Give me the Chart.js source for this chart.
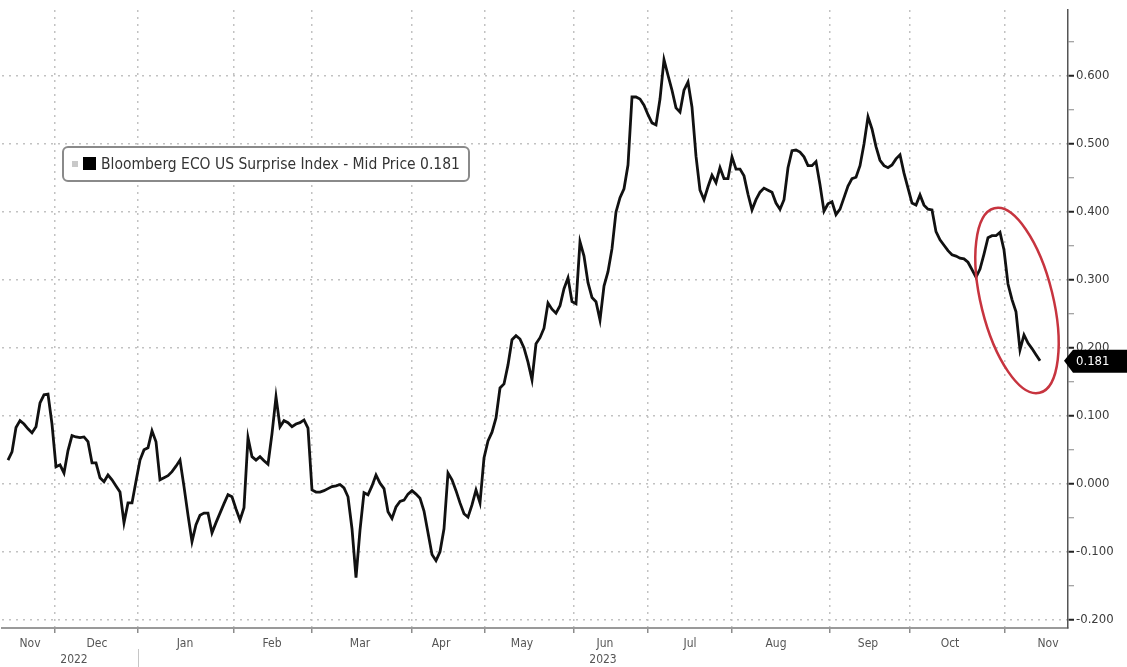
<!DOCTYPE html>
<html>
<head>
<meta charset="utf-8">
<title>ECO US Surprise Index</title>
<script src="https://cdn.jsdelivr.net/npm/chart.js@4.4.0/dist/chart.umd.min.js"></script>
<style>
  html, body { margin: 0; padding: 0; background: #fff; }
  #canvas_div { width: 1127px; height: 667px; }
</style>
</head>
<body>
<div id="canvas_div"><canvas id="myChart" width="1127" height="667"></canvas></div>
<script>
const seriesName = "Bloomberg ECO US Surprise Index - Mid Price";

// one reading per business day, mid Nov 2022 -> mid Nov 2023
const surprise = [
  0.035, 0.047, 0.083, 0.093, 0.088, 0.081, 0.075, 0.084, 0.119, 0.131,
  0.132, 0.088, 0.025, 0.028, 0.016, 0.049, 0.071, 0.069, 0.068, 0.069,
  0.062, 0.031, 0.031, 0.009, 0.003, 0.013, 0.006, -0.003, -0.012, -0.057,
  -0.028, -0.028, 0.004, 0.035, 0.050, 0.053, 0.078, 0.062, 0.006, 0.009,
  0.012, 0.018, 0.026, 0.035, -0.004, -0.046, -0.085, -0.060, -0.046, -0.043,
  -0.043, -0.072, -0.057, -0.043, -0.029, -0.016, -0.019, -0.037, -0.053, -0.035,
  0.068, 0.040, 0.035, 0.040, 0.034, 0.029, 0.074, 0.128, 0.084, 0.093,
  0.090, 0.084, 0.088, 0.090, 0.094, 0.082, -0.009, -0.012, -0.012, -0.010,
  -0.007, -0.004, -0.003, -0.001, -0.006, -0.019, -0.066, -0.138, -0.068, -0.013,
  -0.016, -0.003, 0.013, 0.001, -0.007, -0.041, -0.051, -0.034, -0.026, -0.024,
  -0.015, -0.010, -0.015, -0.021, -0.040, -0.072, -0.104, -0.113, -0.100, -0.066,
  0.016, 0.006, -0.010, -0.028, -0.044, -0.049, -0.031, -0.009, -0.028, 0.038,
  0.063, 0.076, 0.097, 0.141, 0.147, 0.175, 0.212, 0.218, 0.213, 0.200,
  0.179, 0.153, 0.206, 0.215, 0.229, 0.266, 0.257, 0.251, 0.262, 0.287,
  0.303, 0.268, 0.265, 0.356, 0.335, 0.296, 0.274, 0.268, 0.241, 0.291,
  0.312, 0.346, 0.400, 0.421, 0.434, 0.469, 0.569, 0.569, 0.566, 0.557,
  0.543, 0.531, 0.528, 0.566, 0.624, 0.601, 0.579, 0.553, 0.547, 0.579,
  0.591, 0.554, 0.482, 0.432, 0.418, 0.437, 0.454, 0.443, 0.465, 0.449,
  0.449, 0.481, 0.463, 0.463, 0.453, 0.426, 0.403, 0.418, 0.429, 0.435,
  0.432, 0.429, 0.413, 0.404, 0.418, 0.465, 0.490, 0.491, 0.488, 0.481,
  0.468, 0.468, 0.474, 0.440, 0.401, 0.412, 0.415, 0.396, 0.404, 0.421,
  0.438, 0.449, 0.451, 0.468, 0.500, 0.540, 0.522, 0.496, 0.476, 0.468,
  0.465, 0.469, 0.478, 0.484, 0.457, 0.435, 0.413, 0.410, 0.425, 0.410,
  0.404, 0.403, 0.371, 0.359, 0.351, 0.343, 0.337, 0.335, 0.332, 0.331,
  0.326, 0.315, 0.304, 0.316, 0.338, 0.362, 0.365, 0.365, 0.370, 0.344,
  0.294, 0.271, 0.253, 0.197, 0.219, 0.207, 0.199, 0.190, 0.181
];

// month boundaries and month label spots, in reading index
const monthEdges = [11.75, 32.5, 56.5, 76, 101, 119.25, 141.5, 160, 181, 205.5, 225.5, 249.25];
const monthNames = ["Nov", "Dec", "Jan", "Feb", "Mar", "Apr", "May", "Jun", "Jul", "Aug", "Sep", "Oct", "Nov"];
const monthLabelAt = [5.5, 22.25, 44.25, 66, 88, 108.25, 128.5, 149.25, 170.5, 192, 215, 235.5, 260];
const years = ["2022", "2023"];

const yMajor = [-0.2, -0.1, 0, 0.1, 0.2, 0.3, 0.4, 0.5, 0.6];

const X_MIN = -1.5, X_MAX = 265;
const Y_MIN = -0.212, Y_MAX = 0.697;
const FONT = "'DejaVu Sans Condensed', 'DejaVu Sans', sans-serif";

const yTicks = [];
yMajor.forEach((v) => { yTicks.push(v); yTicks.push(Math.round((v + 0.05) * 100) / 100); });
const isMajor = (v) => yMajor.some((m) => Math.abs(m - v) < 1e-6);
const isEdge = (v) => monthEdges.includes(v);

const overlay = {
  id: "overlay",
  afterDatasetsDraw(chart) {
    const { ctx, scales: { x, y } } = chart;
    // red ring round the latest slide
    const n = 13;
    const start = surprise.length - n;
    const xs = surprise.slice(start).map((v, k) => x.getPixelForValue(start + k));
    const ys = surprise.slice(start).map((v) => y.getPixelForValue(v));
    const cx = (Math.min(...xs) + Math.max(...xs)) / 2 + 1;
    const cy = (Math.min(...ys) + Math.max(...ys)) / 2 + 4;
    ctx.save();
    ctx.beginPath();
    ctx.ellipse(cx, cy, 95, 36, 1.33, 0, Math.PI * 2);
    ctx.strokeStyle = "#c7343f";
    ctx.lineWidth = 2.5;
    ctx.stroke();
    ctx.restore();
  },
  afterDraw(chart) {
    const { ctx, chartArea, scales: { x, y } } = chart;
    const last = surprise[surprise.length - 1];

    // legend box
    ctx.save();
    ctx.fillStyle = "#fff";
    ctx.strokeStyle = "#8a8a8a";
    ctx.lineWidth = 2;
    ctx.beginPath();
    ctx.roundRect(63, 147, 406, 34, 5);
    ctx.fill();
    ctx.stroke();
    ctx.fillStyle = "#c9c9c9";
    ctx.fillRect(72, 161, 6, 6);
    ctx.fillStyle = "#000";
    ctx.fillRect(83, 157, 13, 13);
    const text = seriesName + " " + last.toFixed(3);
    ctx.font = "13px " + FONT;
    const w = ctx.measureText(text).width;
    const size = 13 * 359 / w;
    ctx.font = size.toFixed(2) + "px " + FONT;
    ctx.fillStyle = "#333";
    ctx.textBaseline = "middle";
    ctx.fillText(text, 101, 165);

    // last value tag on the axis
    const ty = y.getPixelForValue(last);
    const tx = chartArea.right;
    ctx.fillStyle = "#000";
    ctx.beginPath();
    ctx.moveTo(tx - 4, ty);
    ctx.lineTo(tx + 5, ty - 11);
    ctx.lineTo(chart.width, ty - 11);
    ctx.lineTo(chart.width, ty + 12);
    ctx.lineTo(tx + 5, ty + 12);
    ctx.closePath();
    ctx.fill();
    ctx.fillStyle = "#fff";
    ctx.font = "13px " + FONT;
    ctx.textAlign = "left";
    ctx.fillText(last.toFixed(3), tx + 8, ty + 1);

    // year row under the months
    const janEdge = x.getPixelForValue(monthEdges[1]);
    ctx.strokeStyle = "#c6c6c6";
    ctx.lineWidth = 1;
    ctx.beginPath();
    ctx.moveTo(janEdge + 0.5, 649);
    ctx.lineTo(janEdge + 0.5, chart.height);
    ctx.stroke();
    ctx.fillStyle = "#555";
    ctx.font = "12px " + FONT;
    ctx.textAlign = "center";
    ctx.fillText(years[0], (chartArea.left + janEdge) / 2 + 4, 660);
    ctx.fillText(years[1], (janEdge + chartArea.right) / 2, 660);
    ctx.restore();
  }
};

const config = {
  type: "line",
  data: {
    datasets: [
      {
        label: seriesName,
        data: surprise.map((v, i) => ({ x: i, y: v })),
        borderColor: "#111",
        borderWidth: 2.8,
        pointRadius: 0,
        tension: 0,
        fill: false,
      },
    ],
  },
  options: {
    responsive: false,
    devicePixelRatio: 1,
    animation: false,
    layout: { padding: { left: 2, top: 10, right: 0, bottom: 0 } },
    plugins: { legend: { display: false }, tooltip: { enabled: false } },
    scales: {
      x: {
        type: "linear",
        position: "bottom",
        min: X_MIN,
        max: X_MAX,
        afterBuildTicks: (s) => {
          s.ticks = monthEdges.concat(monthLabelAt)
            .sort((a, b) => a - b)
            .map((v) => ({ value: v }));
        },
        afterFit: (s) => { s.height = 39; },
        ticks: {
          autoSkip: false,
          maxRotation: 0,
          padding: 4,
          color: "#555",
          font: { family: FONT, size: 12 },
          callback: (v) => {
            const k = monthLabelAt.indexOf(v);
            return k < 0 ? "" : monthNames[k];
          },
        },
        grid: {
          color: (c) => (isEdge(c.tick.value) ? "#c2c2c2" : "transparent"),
          lineWidth: 1.5,
          tickColor: (c) => (isEdge(c.tick.value) ? "#8c8c8c" : "transparent"),
          tickLength: 5,
          tickWidth: 1.5,
        },
        border: { color: "#9a9a9a", width: 2, dash: [2, 5] },
      },
      y: {
        type: "linear",
        position: "right",
        min: Y_MIN,
        max: Y_MAX,
        afterBuildTicks: (s) => {
          s.ticks = yTicks.map((v) => ({ value: v }));
        },
        afterFit: (s) => { s.width = 59; },
        ticks: {
          padding: 2,
          color: "#3c3c3c",
          font: { family: FONT, size: 13 },
          callback: (v) => (isMajor(v) ? v.toFixed(3) : ""),
        },
        grid: {
          color: (c) => (isMajor(c.tick.value) ? "#c2c2c2" : "transparent"),
          lineWidth: 1.5,
          tickColor: (c) => (isMajor(c.tick.value) ? "#222" : "#888"),
          tickWidth: (c) => (isMajor(c.tick.value) ? 2 : 1),
          tickLength: 6,
        },
        border: { color: "#555", width: 1.5, dash: [2, 5] },
      },
    },
  },
  plugins: [overlay],
};

window.onload = () => {
  new Chart(document.getElementById("myChart"), config);
};
</script>
</body>
</html>
